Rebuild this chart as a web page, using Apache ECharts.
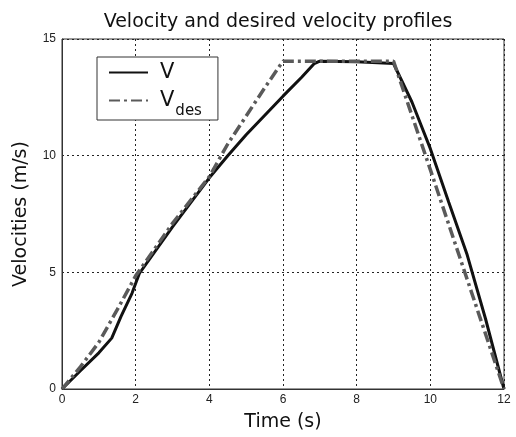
<!DOCTYPE html>
<html>
<head>
<meta charset="utf-8">
<script src="https://cdn.jsdelivr.net/npm/echarts@6/dist/echarts.min.js"></script>
<style>
html,body{margin:0;padding:0;background:#fff;}
#chart{width:516px;height:437px;}
</style>
</head>
<body>
<div id="chart"></div>
<script>
// Data
var timeV = [0, 0.5, 1.0, 1.35, 1.6, 1.9, 2.1, 3.0, 4.0, 4.5, 5.0, 6.0, 6.5, 6.85, 7.0, 8.0, 9.0, 9.5, 10.0, 10.5, 11.0, 11.5, 12.0];
var velV  = [0, 0.78, 1.55, 2.18, 3.1, 4.1, 4.95, 6.95, 9.05, 10.0, 10.9, 12.55, 13.35, 13.95, 14.05, 14.02, 13.95, 12.3, 10.3, 8.0, 5.75, 3.0, 0];
var timeDes = [0, 0.5, 1.0, 1.5, 2.0, 3.0, 4.0, 4.5, 5.0, 5.5, 6.0, 7.0, 8.0, 9.0, 10.0, 11.0, 12.0];
var velDes  = [0, 0.95, 2.0, 3.4, 4.85, 7.1, 9.1, 10.5, 11.7, 12.9, 14.05, 14.05, 14.05, 14.05, 9.4, 4.7, 0];
var xTicks = [0, 2, 4, 6, 8, 10, 12];
var yTicks = [0, 5, 10, 15];

function pairs(xs, ys) { return xs.map(function (x, i) { return [x, ys[i]]; }); }

var chart = echarts.init(document.getElementById('chart'), null, {renderer: 'canvas'});
var gridDots = {show: true, lineStyle: {color: '#222', width: 1, type: [2, 3]}};
chart.setOption({
  animation: false,
  backgroundColor: '#fff',
  title: {
    text: 'Velocity and desired velocity profiles',
    left: 273, top: 8, textAlign: 'center',
    textStyle: {fontFamily: 'DejaVu Sans', fontSize: 19, fontWeight: 'normal', color: '#111'}
  },
  grid: {left: 62, right: 12, top: 39, bottom: 48, show: true, borderColor: '#333', borderWidth: 1, backgroundColor: 'transparent'},
  legend: {
    orient: 'vertical', left: 97, top: 57,
    padding: [5, 16, 1, 11], itemGap: 7,
    itemWidth: 39, itemHeight: 14,
    borderColor: '#333', borderWidth: 1, backgroundColor: '#fff',
    itemStyle: {opacity: 0},
    data: ['V', 'Vdes'],
    formatter: function (name) { return name === 'V' ? '{v|V}' : '{v|V}{s|des}'; },
    textStyle: {
      fontFamily: 'DejaVu Sans', color: '#111',
      rich: {
        v: {fontFamily: 'DejaVu Sans', fontSize: 21, lineHeight: 22, color: '#111', padding: [0, 0, 0, 7]},
        s: {fontFamily: 'DejaVu Sans', fontSize: 15, color: '#111', padding: [22, 0, 0, 1]}
      }
    }
  },
  xAxis: {
    type: 'value', min: 0, max: 12, interval: 2,
    name: 'Time (s)', nameLocation: 'middle', nameGap: 24,
    nameTextStyle: {fontFamily: 'DejaVu Sans', fontSize: 19, color: '#111'},
    axisLine: {show: true, lineStyle: {color: '#333', width: 1}},
    axisTick: {show: false},
    axisLabel: {margin: 5, fontFamily: 'Liberation Sans', fontSize: 12, color: '#222',
      customValues: xTicks},
    splitLine: gridDots
  },
  yAxis: {
    type: 'value', min: 0, max: 15, interval: 5,
    name: 'Velocities (m/s)', nameLocation: 'middle', nameGap: 31,
    nameTextStyle: {fontFamily: 'DejaVu Sans', fontSize: 19, color: '#111'},
    axisLine: {show: true, lineStyle: {color: '#333', width: 1}},
    axisTick: {show: false},
    axisLabel: {margin: 6, fontFamily: 'Liberation Sans', fontSize: 12, color: '#222',
      customValues: yTicks},
    splitLine: gridDots
  },
  series: [
    {
      name: 'V', type: 'line', data: pairs(timeV, velV),
      symbol: 'none', color: '#111',
      lineStyle: {color: '#111', width: 3, type: 'solid'}
    },
    {
      name: 'Vdes', type: 'line', data: pairs(timeDes, velDes),
      symbol: 'none', color: '#5a5a5a',
      lineStyle: {color: '#5a5a5a', width: 3.5, type: [11, 4, 3, 4]}
    }
  ]
});
</script>
</body>
</html>
